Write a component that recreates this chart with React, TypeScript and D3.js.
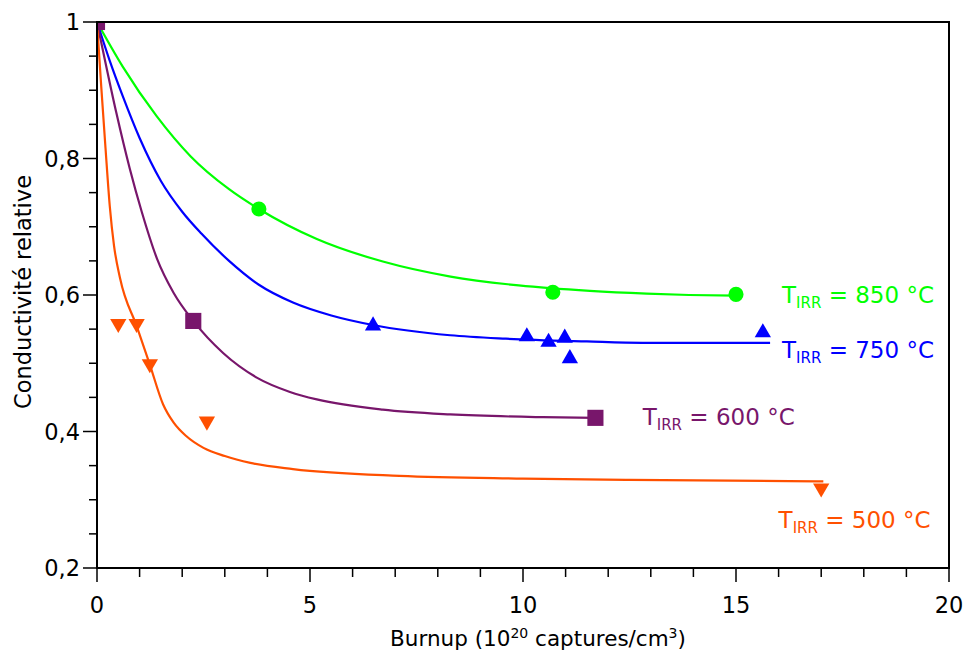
import React from "react";
import * as d3 from "d3";

// ---------- data ----------
const xTickValues = [0, 5, 10, 15, 20];
const yTickValues = [0.2, 0.4, 0.6, 0.8, 1];

const greenCurve: [number, number][] = [
  [0, 1], [0.6, 0.935], [1.4, 0.862], [2.2, 0.803], [3.1, 0.755], [3.8, 0.726],
  [5.16, 0.682], [6.71, 0.649], [8.3, 0.627], [9.9, 0.614], [11.57, 0.606],
  [12.9, 0.602], [13.9, 0.6], [15.0, 0.599],
];
const greenPoints: [number, number][] = [[3.8, 0.726], [10.7, 0.604], [15.0, 0.601]];

const blueCurve: [number, number][] = [
  [0, 1], [0.3, 0.943], [0.6, 0.892], [1.0, 0.83], [1.5, 0.767], [2.0, 0.722],
  [2.45, 0.69], [3.1, 0.65], [3.8, 0.615], [4.6, 0.589], [5.5, 0.57], [6.48, 0.556],
  [8.29, 0.541], [9.6, 0.536], [11.5, 0.532], [12.8, 0.53], [15.8, 0.53],
];
const bluePoints: [number, number][] = [
  [6.48, 0.555], [10.09, 0.539], [10.6, 0.531], [10.98, 0.537], [11.1, 0.507], [15.63, 0.545],
];

const purpleCurve: [number, number][] = [
  [0, 1], [0.15, 0.955], [0.45, 0.868], [0.77, 0.785], [1.05, 0.722], [1.41, 0.653],
  [1.8, 0.603], [2.26, 0.562], [2.96, 0.515], [3.75, 0.479], [4.53, 0.458],
  [5.16, 0.447], [6.71, 0.432], [8.29, 0.425], [10.47, 0.421], [11.7, 0.42],
];
const purplePoints: [number, number][] = [[0, 1], [2.26, 0.562], [11.7, 0.42]];

const orangeCurve: [number, number][] = [
  [0, 1], [0.1, 0.905], [0.2, 0.815], [0.3, 0.73], [0.4, 0.672], [0.54, 0.625],
  [0.94, 0.553], [1.24, 0.498], [1.55, 0.44], [1.8, 0.413], [2.1, 0.393], [2.5, 0.376],
  [3.0, 0.364], [3.6, 0.354], [4.6, 0.345], [7.1, 0.335], [10, 0.331], [12.5, 0.329],
  [17.05, 0.327],
];
const orangePoints: [number, number][] = [
  [0.5, 0.558], [0.93, 0.558], [1.24, 0.499], [2.58, 0.415], [17.0, 0.317],
];

const seriesTemps = ["850", "750", "600", "500"];
const seriesColors = ["#00ff00", "#0000ff", "#78166b", "#ff5000"];
const seriesCurves = [greenCurve, blueCurve, purpleCurve, orangeCurve];
const seriesPoints = [greenPoints, bluePoints, purplePoints, orangePoints];
const seriesMarkers = ["circle", "triangle", "square", "triangleDown"];

// label anchors (data coords, left/baseline)
const labelAnchors: [number, number][] = [[16.08, 0.588], [16.08, 0.507], [12.81, 0.409], [16.0, 0.258]];

const W = 966;
const H = 655;
const FONT = "'DejaVu Sans', Verdana, sans-serif";

export default function App() {
  const x = d3.scaleLinear().domain([0, 20]).range([97, 949]);
  const y = d3.scaleLinear().domain([0.2, 1]).range([568, 22]);
  const [x0, x1] = x.range();
  const [y0, y1] = [y(1), y(0.2)];

  const fmt = d3.formatLocale({ decimal: ",", thousands: ".", grouping: [3], currency: ["", ""] }).format(".1~f");

  const xMinor = d3.range(0, 20.001, 1).filter((v) => v % 5 !== 0);
  const yMinor = d3.range(0.25, 1, 0.05).filter((v) => Math.abs(v * 5 - Math.round(v * 5)) > 1e-6);

  const line = d3.line<[number, number]>().x((d) => x(d[0])).y((d) => y(d[1])).curve(d3.curveMonotoneX);

  const symbolPath = (kind: string) => {
    if (kind === "circle") return d3.symbol().type(d3.symbolCircle).size(180)();
    if (kind === "square") return d3.symbol().type(d3.symbolSquare).size(260)();
    return d3.symbol().type(d3.symbolTriangle).size(115)();
  };

  return (
    <svg width={W} height={H} style={{ position: "absolute", left: 0, top: 0, background: "#fff" }} fontFamily={FONT}>
      <defs>
        <clipPath id="plotClip">
          <rect x={x0} y={y0} width={x1 - x0} height={y1 - y0} />
        </clipPath>
      </defs>
      <rect x={0} y={0} width={W} height={H} fill="#fff" />

      {/* curves and markers */}
      <g clipPath="url(#plotClip)">
        {seriesCurves.map((c, i) => (
          <path key={"c" + i} d={line(c) || ""} fill="none" stroke={seriesColors[i]} strokeWidth={2.2} />
        ))}
        {seriesPoints.map((pts, i) =>
          pts.map((p, j) => (
            <path
              key={"m" + i + "-" + j}
              d={symbolPath(seriesMarkers[i]) || ""}
              transform={`translate(${x(p[0])},${y(p[1])})${seriesMarkers[i] === "triangleDown" ? " rotate(180)" : ""}`}
              fill={seriesColors[i]}
            />
          ))
        )}
      </g>

      {/* frame */}
      <rect x={x0} y={y0} width={x1 - x0} height={y1 - y0} fill="none" stroke="#000" strokeWidth={2} />

      {/* y ticks */}
      {yTickValues.map((v) => (
        <g key={"yt" + v}>
          <line x1={x0 - 14} x2={x0} y1={y(v)} y2={y(v)} stroke="#000" strokeWidth={1.5} />
          <text x={x0 - 17} y={y(v)} dy="0.36em" textAnchor="end" fontSize={22.5} fill="#000">
            {fmt(v)}
          </text>
        </g>
      ))}
      {yMinor.map((v) => (
        <line key={"ym" + v} x1={x0 - 8} x2={x0} y1={y(v)} y2={y(v)} stroke="#000" strokeWidth={1.5} />
      ))}

      {/* x ticks */}
      {xTickValues.map((v) => (
        <g key={"xt" + v}>
          <line x1={x(v)} x2={x(v)} y1={y1} y2={y1 + 14} stroke="#000" strokeWidth={1.5} />
          <text x={x(v)} y={613} textAnchor="middle" fontSize={22.5} fill="#000">
            {fmt(v)}
          </text>
        </g>
      ))}
      {xMinor.map((v) => (
        <line key={"xm" + v} x1={x(v)} x2={x(v)} y1={y1} y2={y1 + 9} stroke="#000" strokeWidth={1.5} />
      ))}

      {/* axis titles */}
      <text x={538} y={646} textAnchor="middle" fontSize={21.5} fill="#000">
        Burnup (10
        <tspan dy={-8} fontSize={14}>20</tspan>
        <tspan dy={8}> captures/cm</tspan>
        <tspan dy={-8} fontSize={14}>3</tspan>
        <tspan dy={8}>)</tspan>
      </text>
      <text transform="translate(31,292) rotate(-90)" textAnchor="middle" fontSize={22.5} fill="#000">
        Conductivité relative
      </text>

      {/* series labels */}
      {seriesTemps.map((t, i) => (
        <text key={"l" + i} x={x(labelAnchors[i][0])} y={y(labelAnchors[i][1])} fontSize={23} fill={seriesColors[i]}>
          T
          <tspan dy={5} fontSize={15}>IRR</tspan>
          <tspan dy={-5}>{` = ${t} °C`}</tspan>
        </text>
      ))}
    </svg>
  );
}
